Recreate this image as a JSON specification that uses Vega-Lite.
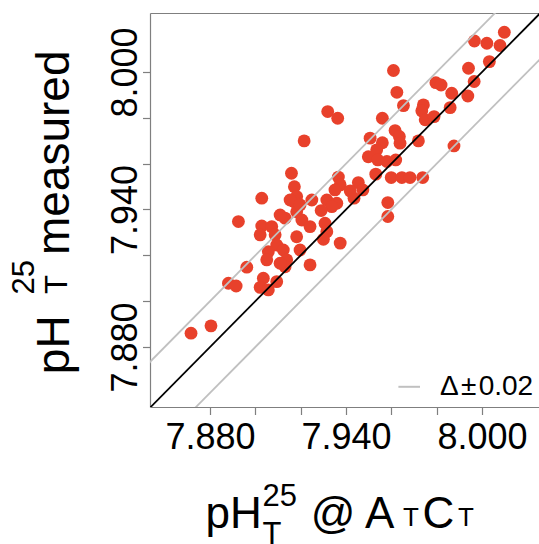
{
  "$schema": "https://vega.github.io/schema/vega-lite/v6.json",
  "autosize": {"type": "none"},
  "padding": {"left": 150, "top": 13, "right": 0, "bottom": 137},
  "width": 389,
  "height": 394,
  "config": {
    "view": {"stroke": null},
    "font": "Liberation Sans",
    "axis": {
      "grid": false,
      "titleFont": "Liberation Sans",
      "titleFontWeight": "normal",
      "titleColor": "#000000",
      "titleAlign": "left",
      "titleBaseline": "alphabetic",
      "titleLimit": 1000,
      "labelFont": "Liberation Sans",
      "labelColor": "#000000",
      "domainColor": "#7f7f7f",
      "tickColor": "#7f7f7f",
      "domainWidth": 1.2,
      "tickWidth": 1.2
    }
  },
  "layer": [
    {
      "data": {"values": [
        {"x": 8.0098, "y": 8.0173}, {"x": 7.9966, "y": 8.0135}, {"x": 8.0021, "y": 8.0125}, {"x": 8.0079, "y": 8.0115},
        {"x": 8.0032, "y": 8.0045}, {"x": 7.9940, "y": 8.0016}, {"x": 7.9965, "y": 7.9958}, {"x": 7.9937, "y": 7.9895},
        {"x": 7.9609, "y": 8.0006}, {"x": 7.9624, "y": 7.9911}, {"x": 7.9796, "y": 7.9953}, {"x": 7.9819, "y": 7.9943},
        {"x": 7.9866, "y": 7.9907}, {"x": 7.9859, "y": 7.9844}, {"x": 7.9653, "y": 7.9853}, {"x": 7.9741, "y": 7.9856},
        {"x": 7.9734, "y": 7.9830}, {"x": 7.9749, "y": 7.9791}, {"x": 7.9788, "y": 7.9805}, {"x": 7.9319, "y": 7.9827},
        {"x": 7.9363, "y": 7.9798}, {"x": 7.9560, "y": 7.9798}, {"x": 7.9215, "y": 7.9699}, {"x": 7.9506, "y": 7.9711},
        {"x": 7.9616, "y": 7.9744}, {"x": 7.9635, "y": 7.9718}, {"x": 7.9638, "y": 7.9689}, {"x": 7.9560, "y": 7.9691},
        {"x": 7.9719, "y": 7.9699}, {"x": 7.9876, "y": 7.9677}, {"x": 7.9535, "y": 7.9660}, {"x": 7.9498, "y": 7.9630},
        {"x": 7.9540, "y": 7.9616}, {"x": 7.9580, "y": 7.9609}, {"x": 7.9619, "y": 7.9616}, {"x": 7.9531, "y": 7.9554},
        {"x": 7.9599, "y": 7.9539}, {"x": 7.9646, "y": 7.9539}, {"x": 7.9682, "y": 7.9539}, {"x": 7.9738, "y": 7.9539},
        {"x": 7.9159, "y": 7.9558}, {"x": 7.9366, "y": 7.9541}, {"x": 7.9172, "y": 7.9499}, {"x": 7.9374, "y": 7.9507},
        {"x": 7.9454, "y": 7.9517}, {"x": 7.9418, "y": 7.9481}, {"x": 7.9474, "y": 7.9485}, {"x": 7.9028, "y": 7.9449},
        {"x": 7.9182, "y": 7.9456}, {"x": 7.9435, "y": 7.9449}, {"x": 7.9584, "y": 7.9430}, {"x": 7.9249, "y": 7.9441},
        {"x": 7.9171, "y": 7.9434}, {"x": 7.9315, "y": 7.9441}, {"x": 7.9359, "y": 7.9427}, {"x": 7.9337, "y": 7.9412},
        {"x": 7.9584, "y": 7.9369}, {"x": 7.8925, "y": 7.9347}, {"x": 7.9131, "y": 7.9362}, {"x": 7.9182, "y": 7.9390},
        {"x": 7.9205, "y": 7.9354}, {"x": 7.9241, "y": 7.9325}, {"x": 7.9028, "y": 7.9328}, {"x": 7.9072, "y": 7.9325},
        {"x": 7.9021, "y": 7.9289}, {"x": 7.9087, "y": 7.9289}, {"x": 7.9182, "y": 7.9281}, {"x": 7.9307, "y": 7.9340},
        {"x": 7.9315, "y": 7.9303}, {"x": 7.9300, "y": 7.9270}, {"x": 7.9374, "y": 7.9253}, {"x": 7.9094, "y": 7.9245},
        {"x": 7.9123, "y": 7.9223}, {"x": 7.9057, "y": 7.9216}, {"x": 7.9197, "y": 7.9223}, {"x": 7.9050, "y": 7.9180},
        {"x": 7.9138, "y": 7.9180}, {"x": 7.9241, "y": 7.9158}, {"x": 7.8962, "y": 7.9148}, {"x": 7.9131, "y": 7.9150},
        {"x": 7.8881, "y": 7.9078}, {"x": 7.8915, "y": 7.9066}, {"x": 7.9035, "y": 7.9100}, {"x": 7.9094, "y": 7.9085},
        {"x": 7.9021, "y": 7.9060}, {"x": 7.9057, "y": 7.9049}, {"x": 7.8804, "y": 7.8892}, {"x": 7.8716, "y": 7.8860},
        {"x": 7.9109, "y": 7.9165}, {"x": 7.9153, "y": 7.9441}, {"x": 7.9197, "y": 7.9420}, {"x": 7.9109, "y": 7.9376},
        {"x": 7.9351, "y": 7.9485}, {"x": 7.9290, "y": 7.9395}
      ]},
      "mark": {"type": "circle", "size": 165, "color": "#e8412b", "opacity": 1},
      "encoding": {
        "x": {
          "field": "x", "type": "quantitative",
          "scale": {"domain": [7.8535, 8.0251], "nice": false, "zero": false},
          "axis": {
            "orient": "bottom",
            "values": [7.88, 7.90, 7.92, 7.94, 7.96, 7.98, 8.00],
            "labelExpr": "(round(datum.value*100) - 788) % 6 == 0 ? format(datum.value, '.3f') : ''",
            "labelFontSize": 36, "labelPadding": 5.5, "tickSize": 7.5, "labelOverlap": false, "labelFlush": false,
            "title": "pH\u00a0\u00a0\u00a0\u00a0@ A\u00a0\u00a0\u200aC", "titleFontSize": 44, "titleX": 55, "titleY": 120, "titleAngle": 0
          }
        },
        "y": {
          "field": "y", "type": "quantitative",
          "scale": {"domain": [7.8538, 8.0257], "nice": false, "zero": false},
          "axis": {
            "orient": "left",
            "values": [7.88, 7.90, 7.92, 7.94, 7.96, 7.98, 8.00],
            "labelExpr": "(round(datum.value*100) - 788) % 6 == 0 ? format(datum.value, '.3f') : ''",
            "labelFontSize": 36, "labelPadding": 5.8, "tickSize": 7.5, "labelAngle": 270, "labelAlign": "center", "labelBaseline": "alphabetic",
            "labelOverlap": false, "labelFlush": false,
            "title": "pH\u00a0\u00a0\u00a0\u00a0\u2009measured", "titleFontSize": 46, "titleX": -81.7, "titleY": 360.7, "titleAngle": 270
          }
        }
      }
    },
    {
      "data": {"values": [{"x": 7.85, "y": 7.85}, {"x": 8.03, "y": 8.03}]},
      "mark": {"type": "line", "color": "#000000", "strokeWidth": 1.8, "clip": true},
      "encoding": {
        "x": {
          "field": "x", "type": "quantitative",
          "scale": {"domain": [7.8535, 8.0251], "nice": false, "zero": false},
          "axis": {"orient": "bottom", "domain": false, "ticks": false, "labels": false,
            "title": ["25", "T"], "titleFontSize": 31, "titleLineHeight": 38, "titleX": 112, "titleY": 98, "titleAngle": 0}
        },
        "y": {
          "field": "y", "type": "quantitative",
          "scale": {"domain": [7.8538, 8.0257], "nice": false, "zero": false},
          "axis": {"orient": "left", "domain": false, "ticks": false, "labels": false,
            "title": "25", "titleFontSize": 31, "titleX": -116.7, "titleY": 281, "titleAngle": 270}
        }
      }
    },
    {
      "data": {"values": [
        {"x": 7.85, "y": 7.87, "line": "upper", "label": "Δ\u200a±\u200a0.02"},
        {"x": 8.03, "y": 8.05, "line": "upper", "label": "Δ\u200a±\u200a0.02"},
        {"x": 7.85, "y": 7.83, "line": "lower", "label": "Δ\u200a±\u200a0.02"},
        {"x": 8.03, "y": 8.01, "line": "lower", "label": "Δ\u200a±\u200a0.02"}
      ]},
      "mark": {"type": "line", "strokeWidth": 1.8, "clip": true},
      "encoding": {
        "x": {
          "field": "x", "type": "quantitative",
          "scale": {"domain": [7.8535, 8.0251], "nice": false, "zero": false},
          "axis": {"orient": "top", "domain": true, "ticks": false, "labels": false,
            "title": "T\u2003\u2002T", "titleFontSize": 26, "titleX": 252.5, "titleY": 512, "titleAngle": 0}
        },
        "y": {
          "field": "y", "type": "quantitative",
          "scale": {"domain": [7.8538, 8.0257], "nice": false, "zero": false},
          "axis": {"orient": "left", "domain": false, "ticks": false, "labels": false,
            "title": "T", "titleFontSize": 31, "titleX": -83.3, "titleY": 280.5, "titleAngle": 270}
        },
        "detail": {"field": "line", "type": "nominal"},
        "color": {
          "field": "label", "type": "nominal",
          "scale": {"range": ["#c0c0c0"]},
          "legend": {
            "orient": "none", "legendX": 245.2, "legendY": 359.8, "title": null,
            "symbolType": "stroke", "symbolSize": 467, "symbolStrokeWidth": 2,
            "labelFontSize": 28, "labelFont": "Liberation Sans", "labelColor": "#000000",
            "labelOffset": 16.7, "padding": 0, "labelLimit": 500
          }
        }
      }
    }
  ],
  "resolve": {
    "scale": {"x": "independent", "y": "independent", "color": "independent"},
    "axis": {"x": "independent", "y": "independent"}
  }
}
